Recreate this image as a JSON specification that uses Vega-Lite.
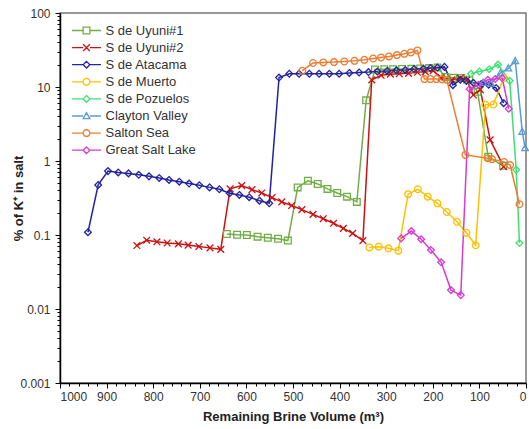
{
"$schema": "https://vega.github.io/schema/vega-lite/v6.json",
"width": 466, "height": 370,
"autosize": {"type": "none"},
"padding": {"left": 60, "top": 13, "right": 3, "bottom": 46},
"background": "white",
"config": {
  "view": {"stroke": "#777", "strokeWidth": 1.5},
  "axis": {"labelFont": "Liberation Sans", "titleFont": "Liberation Sans", "labelFontSize": 12, "titleFontSize": 13, "titleFontWeight": "bold", "labelColor": "#333", "titleColor": "#222", "domainColor": "#000", "domainWidth": 1.5, "tickColor": "#000", "tickWidth": 1, "grid": false},
  "legend": {"orient": "none", "legendX": 23, "legendY": 11, "padding": 0, "rowPadding": 3.1, "labelFont": "Liberation Sans", "labelFontSize": 13, "labelColor": "#333", "symbolSize": 45, "symbolStrokeWidth": 1.3, "labelOffset": 12.5, "symbolOffset": -3}
},
"data": {"values": [
{"series":"S de Uyuni#1","volume":642,"pct":0.103},{"series":"S de Uyuni#1","volume":620,"pct":0.101},{"series":"S de Uyuni#1","volume":599,"pct":0.100},{"series":"S de Uyuni#1","volume":576,"pct":0.095},{"series":"S de Uyuni#1","volume":554,"pct":0.092},{"series":"S de Uyuni#1","volume":532,"pct":0.089},{"series":"S de Uyuni#1","volume":511,"pct":0.084},
{"series":"S de Uyuni#1","volume":490,"pct":0.44},{"series":"S de Uyuni#1","volume":468,"pct":0.54},{"series":"S de Uyuni#1","volume":447,"pct":0.49},{"series":"S de Uyuni#1","volume":426,"pct":0.42},{"series":"S de Uyuni#1","volume":405,"pct":0.37},{"series":"S de Uyuni#1","volume":384,"pct":0.33},{"series":"S de Uyuni#1","volume":363,"pct":0.28},
{"series":"S de Uyuni#1","volume":343,"pct":6.6},{"series":"S de Uyuni#1","volume":324,"pct":17.3},{"series":"S de Uyuni#1","volume":304,"pct":17.4},{"series":"S de Uyuni#1","volume":285,"pct":17.4},{"series":"S de Uyuni#1","volume":266,"pct":17.5},{"series":"S de Uyuni#1","volume":246,"pct":17.6},{"series":"S de Uyuni#1","volume":227,"pct":17.8},{"series":"S de Uyuni#1","volume":208,"pct":18.0},{"series":"S de Uyuni#1","volume":190,"pct":18.4},{"series":"S de Uyuni#1","volume":173,"pct":13.7},{"series":"S de Uyuni#1","volume":156,"pct":13.3},{"series":"S de Uyuni#1","volume":139,"pct":13.2},{"series":"S de Uyuni#1","volume":122,"pct":12.5},{"series":"S de Uyuni#1","volume":104,"pct":8.6},{"series":"S de Uyuni#1","volume":81,"pct":1.14},{"series":"S de Uyuni#1","volume":49,"pct":0.86},
{"series":"S de Uyuni#2","volume":835,"pct":0.072},{"series":"S de Uyuni#2","volume":814,"pct":0.085},{"series":"S de Uyuni#2","volume":792,"pct":0.081},{"series":"S de Uyuni#2","volume":770,"pct":0.078},{"series":"S de Uyuni#2","volume":746,"pct":0.076},{"series":"S de Uyuni#2","volume":725,"pct":0.073},{"series":"S de Uyuni#2","volume":702,"pct":0.070},{"series":"S de Uyuni#2","volume":678,"pct":0.067},{"series":"S de Uyuni#2","volume":655,"pct":0.064},
{"series":"S de Uyuni#2","volume":635,"pct":0.42},{"series":"S de Uyuni#2","volume":610,"pct":0.465},{"series":"S de Uyuni#2","volume":588,"pct":0.41},{"series":"S de Uyuni#2","volume":567,"pct":0.37},{"series":"S de Uyuni#2","volume":545,"pct":0.32},{"series":"S de Uyuni#2","volume":524,"pct":0.28},{"series":"S de Uyuni#2","volume":503,"pct":0.25},{"series":"S de Uyuni#2","volume":481,"pct":0.22},{"series":"S de Uyuni#2","volume":457,"pct":0.19},{"series":"S de Uyuni#2","volume":435,"pct":0.166},{"series":"S de Uyuni#2","volume":413,"pct":0.144},{"series":"S de Uyuni#2","volume":392,"pct":0.123},{"series":"S de Uyuni#2","volume":372,"pct":0.105},{"series":"S de Uyuni#2","volume":350,"pct":0.084},
{"series":"S de Uyuni#2","volume":331,"pct":12.5},{"series":"S de Uyuni#2","volume":311,"pct":14.4},{"series":"S de Uyuni#2","volume":291,"pct":14.9},{"series":"S de Uyuni#2","volume":272,"pct":15.1},{"series":"S de Uyuni#2","volume":252,"pct":15.3},{"series":"S de Uyuni#2","volume":233,"pct":15.8},{"series":"S de Uyuni#2","volume":216,"pct":16.0},{"series":"S de Uyuni#2","volume":199,"pct":16.6},{"series":"S de Uyuni#2","volume":182,"pct":13.3},{"series":"S de Uyuni#2","volume":159,"pct":12.5},{"series":"S de Uyuni#2","volume":141,"pct":13.2},{"series":"S de Uyuni#2","volume":127,"pct":12.5},{"series":"S de Uyuni#2","volume":113,"pct":7.8},{"series":"S de Uyuni#2","volume":98,"pct":9.2},{"series":"S de Uyuni#2","volume":77,"pct":1.93},{"series":"S de Uyuni#2","volume":48,"pct":0.84},
{"series":"S de Atacama","volume":940,"pct":0.109},{"series":"S de Atacama","volume":918,"pct":0.475},{"series":"S de Atacama","volume":897,"pct":0.73},{"series":"S de Atacama","volume":875,"pct":0.70},{"series":"S de Atacama","volume":853,"pct":0.68},{"series":"S de Atacama","volume":831,"pct":0.65},{"series":"S de Atacama","volume":809,"pct":0.62},{"series":"S de Atacama","volume":787,"pct":0.59},{"series":"S de Atacama","volume":766,"pct":0.555},{"series":"S de Atacama","volume":744,"pct":0.525},{"series":"S de Atacama","volume":723,"pct":0.495},{"series":"S de Atacama","volume":701,"pct":0.47},{"series":"S de Atacama","volume":679,"pct":0.44},{"series":"S de Atacama","volume":658,"pct":0.415},{"series":"S de Atacama","volume":636,"pct":0.366},{"series":"S de Atacama","volume":615,"pct":0.348},{"series":"S de Atacama","volume":594,"pct":0.324},{"series":"S de Atacama","volume":572,"pct":0.291},{"series":"S de Atacama","volume":551,"pct":0.268},
{"series":"S de Atacama","volume":530,"pct":13.4},{"series":"S de Atacama","volume":508,"pct":15.1},{"series":"S de Atacama","volume":487,"pct":15.1},{"series":"S de Atacama","volume":465,"pct":15.1},{"series":"S de Atacama","volume":444,"pct":15.1},{"series":"S de Atacama","volume":422,"pct":15.1},{"series":"S de Atacama","volume":401,"pct":15.1},{"series":"S de Atacama","volume":379,"pct":15.5},{"series":"S de Atacama","volume":358,"pct":15.7},{"series":"S de Atacama","volume":338,"pct":15.9},{"series":"S de Atacama","volume":319,"pct":16.2},{"series":"S de Atacama","volume":298,"pct":16.5},{"series":"S de Atacama","volume":278,"pct":16.8},{"series":"S de Atacama","volume":259,"pct":17.0},{"series":"S de Atacama","volume":240,"pct":17.5},{"series":"S de Atacama","volume":220,"pct":17.6},{"series":"S de Atacama","volume":205,"pct":18.0},{"series":"S de Atacama","volume":190,"pct":18.3},{"series":"S de Atacama","volume":175,"pct":18.7},
{"series":"S de Atacama","volume":157,"pct":10.6},{"series":"S de Atacama","volume":141,"pct":12.5},{"series":"S de Atacama","volume":128,"pct":12.1},{"series":"S de Atacama","volume":113,"pct":11.4},{"series":"S de Atacama","volume":96,"pct":11.0},{"series":"S de Atacama","volume":80,"pct":10.7},{"series":"S de Atacama","volume":64,"pct":9.7},{"series":"S de Atacama","volume":48,"pct":6.05},
{"series":"S de Muerto","volume":336,"pct":0.068},{"series":"S de Muerto","volume":316,"pct":0.0695},{"series":"S de Muerto","volume":295,"pct":0.066},{"series":"S de Muerto","volume":274,"pct":0.0614},{"series":"S de Muerto","volume":253,"pct":0.356},{"series":"S de Muerto","volume":232,"pct":0.415},{"series":"S de Muerto","volume":211,"pct":0.33},{"series":"S de Muerto","volume":190,"pct":0.268},{"series":"S de Muerto","volume":170,"pct":0.205},{"series":"S de Muerto","volume":148,"pct":0.151},{"series":"S de Muerto","volume":128,"pct":0.107},{"series":"S de Muerto","volume":108,"pct":0.0726},{"series":"S de Muerto","volume":87,"pct":5.74},{"series":"S de Muerto","volume":70,"pct":5.8},{"series":"S de Muerto","volume":48,"pct":13.2},
{"series":"S de Pozuelos","volume":118,"pct":15.1},{"series":"S de Pozuelos","volume":100,"pct":16.2},{"series":"S de Pozuelos","volume":79,"pct":17.4},{"series":"S de Pozuelos","volume":60,"pct":20.1},{"series":"S de Pozuelos","volume":35,"pct":12.1},{"series":"S de Pozuelos","volume":21,"pct":0.76},{"series":"S de Pozuelos","volume":14,"pct":0.078},
{"series":"Clayton Valley","volume":92,"pct":11.5},{"series":"Clayton Valley","volume":75,"pct":11.2},{"series":"Clayton Valley","volume":55,"pct":15.4},{"series":"Clayton Valley","volume":38,"pct":17.9},{"series":"Clayton Valley","volume":23,"pct":22.6},{"series":"Clayton Valley","volume":8,"pct":2.5},{"series":"Clayton Valley","volume":2,"pct":1.5},
{"series":"Salton Sea","volume":480,"pct":16.6},{"series":"Salton Sea","volume":457,"pct":21.1},{"series":"Salton Sea","volume":435,"pct":21.5},{"series":"Salton Sea","volume":412,"pct":21.7},{"series":"Salton Sea","volume":390,"pct":22.1},{"series":"Salton Sea","volume":368,"pct":22.6},{"series":"Salton Sea","volume":347,"pct":23.3},{"series":"Salton Sea","volume":328,"pct":24.3},{"series":"Salton Sea","volume":311,"pct":25.1},{"series":"Salton Sea","volume":294,"pct":25.9},{"series":"Salton Sea","volume":277,"pct":27.0},{"series":"Salton Sea","volume":261,"pct":28.1},{"series":"Salton Sea","volume":247,"pct":29.3},{"series":"Salton Sea","volume":233,"pct":31.2},{"series":"Salton Sea","volume":218,"pct":12.8},{"series":"Salton Sea","volume":205,"pct":12.8},{"series":"Salton Sea","volume":192,"pct":12.8},{"series":"Salton Sea","volume":180,"pct":12.7},{"series":"Salton Sea","volume":170,"pct":12.5},{"series":"Salton Sea","volume":130,"pct":1.21},{"series":"Salton Sea","volume":82,"pct":1.09},{"series":"Salton Sea","volume":73,"pct":1.06},{"series":"Salton Sea","volume":47,"pct":0.97},{"series":"Salton Sea","volume":34,"pct":0.88},{"series":"Salton Sea","volume":14,"pct":0.26},
{"series":"Great Salt Lake","volume":268,"pct":0.090},{"series":"Great Salt Lake","volume":246,"pct":0.113},{"series":"Great Salt Lake","volume":225,"pct":0.0875},{"series":"Great Salt Lake","volume":204,"pct":0.0627},{"series":"Great Salt Lake","volume":182,"pct":0.0427},{"series":"Great Salt Lake","volume":161,"pct":0.018},{"series":"Great Salt Lake","volume":140,"pct":0.0154},{"series":"Great Salt Lake","volume":121,"pct":9.4},{"series":"Great Salt Lake","volume":102,"pct":10.7},{"series":"Great Salt Lake","volume":82,"pct":12.5},{"series":"Great Salt Lake","volume":66,"pct":12.8},{"series":"Great Salt Lake","volume":51,"pct":13.2},{"series":"Great Salt Lake","volume":37,"pct":5.1}
]},
"encoding": {
  "x": {"field": "volume", "type": "quantitative", "title": "Remaining Brine Volume (m³)",
    "scale": {"domain": [0, 1000], "reverse": true, "nice": false},
    "axis": {"values": [0,20,40,60,80,100,120,140,160,180,200,220,240,260,280,300,320,340,360,380,400,420,440,460,480,500,520,540,560,580,600,620,640,660,680,700,720,740,760,780,800,820,840,860,880,900,920,940,960,980,1000],
      "format": "d", "labelExpr": "datum.value % 100 === 0 ? datum.label : ''", "labelOverlap": false,
      "tickSize": {"condition": {"test": "datum.value % 100 === 0", "value": 5}, "value": 3},
      "labelPadding": 3, "titlePadding": 8}},
  "y": {"field": "pct", "type": "quantitative", "title": "% of K⁺ in salt",
    "scale": {"type": "log", "domain": [0.001, 100], "nice": false},
    "axis": {"values": [0.001,0.002,0.003,0.004,0.005,0.006,0.007,0.008,0.009,0.01,0.02,0.03,0.04,0.05,0.06,0.07,0.08,0.09,0.1,0.2,0.3,0.4,0.5,0.6,0.7,0.8,0.9,1,2,3,4,5,6,7,8,9,10,20,30,40,50,60,70,80,90,100],
      "labelExpr": "(datum.value == 0.001 || datum.value == 0.01 || datum.value == 0.1 || datum.value == 1 || datum.value == 10 || datum.value == 100) ? format(datum.value, '~g') : ''",
      "labelOverlap": false,
      "tickSize": {"condition": {"test": "datum.value == 0.001 || datum.value == 0.01 || datum.value == 0.1 || datum.value == 1 || datum.value == 10 || datum.value == 100", "value": 5}, "value": 3},
      "labelPadding": 5, "titleX": -42, "titleBaseline": "middle"}},
  "color": {"field": "series", "type": "nominal",
    "scale": {"domain": ["S de Uyuni#1","S de Uyuni#2","S de Atacama","S de Muerto","S de Pozuelos","Clayton Valley","Salton Sea","Great Salt Lake"],
              "range": ["#70AD47","#CC1111","#2323A0","#FFC000","#3EE070","#5B9BD5","#ED7D31","#D83AD0"]},
    "legend": {"title": null, "encode": {"symbols": {"update": {"shape": {"signal": "scale('shape', datum.value) + 'M-4.3,0L-1,0M1,0L4.3,0'"}, "fill": {"value": "transparent"}, "strokeWidth": {"value": 1.3}}}}}}
},
"layer": [
  {"mark": {"type": "line", "strokeWidth": 1.5}, "encoding": {}},
  {"mark": {"type": "point", "filled": false, "size": 45, "strokeWidth": 1.3, "opacity": 1},
   "encoding": {
     "shape": {"field": "series", "type": "nominal", "legend": null,
       "scale": {"domain": ["Clayton Valley","Great Salt Lake","S de Atacama","S de Muerto","S de Pozuelos","S de Uyuni#1","S de Uyuni#2","Salton Sea"],
                 "range": ["M0,-1L1,0.8L-1,0.8Z","M0,-1L1,0L0,1L-1,0Z","M0,-1L1,0L0,1L-1,0Z","M1,0A1,1,0,1,1,-1,0A1,1,0,1,1,1,0Z","M0,-1L1,0L0,1L-1,0Z","M-1,-1H1V1H-1Z","M-1,-1L1,1M-1,1L1,-1","M1,0A1,1,0,1,1,-1,0A1,1,0,1,1,1,0Z"]}}
   }}
]
}
